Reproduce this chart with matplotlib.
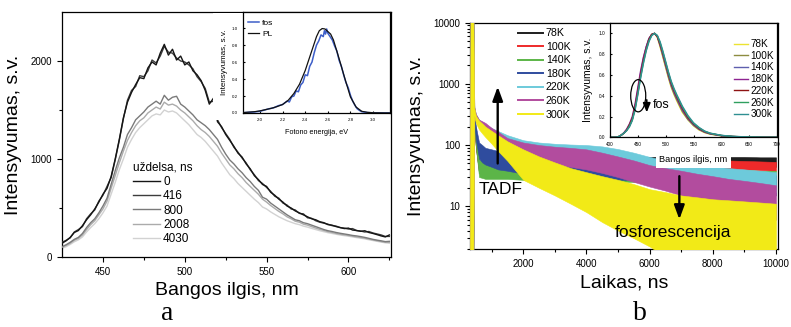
import matplotlib
matplotlib.use('Agg')
import matplotlib.pyplot as plt
from matplotlib.lines import Line2D
from matplotlib.patches import Ellipse, Rectangle
from matplotlib.ticker import MultipleLocator, FormatStrFormatter, FuncFormatter, FixedLocator

plt.rcParams['font.family'] = ['Liberation Sans', 'DejaVu Sans']

# ---------------- data: panel a (delayed spectra) ----------------
wl = [425, 427.5, 430, 432.5, 435, 437.5, 440, 442.5, 445, 447.5, 450, 452.5, 455, 457.5, 460, 462.5,
      465, 467.5, 470, 472.5, 475, 477.5, 480, 482.5, 485, 487.5, 490, 492.5, 495, 497.5, 500, 502.5,
      505, 507.5, 510, 512.5, 515, 517.5, 520, 522.5, 525, 527.5, 530, 532.5, 535, 537.5, 540, 542.5,
      545, 547.5, 550, 552.5, 555, 557.5, 560, 562.5, 565, 567.5, 570, 572.5, 575, 577.5, 580, 582.5,
      585, 587.5, 590, 592.5, 595, 597.5, 600, 602.5, 605, 607.5, 610, 612.5, 615, 617.5, 620, 622.5, 625]
delay_labels = ['0', '416', '800', '2008', '4030']
delay_colors = ['#151515', '#3c3c3c', '#7a7a7a', '#ababab', '#d2d2d2']
spec_0 = [140, 165, 200, 250, 270, 320, 380, 430, 490, 560, 640, 700, 820, 1000, 1200, 1420,
          1580, 1680, 1760, 1830, 1820, 1930, 1990, 1960, 2080, 2170, 2060, 2120, 2010, 2050, 1960, 1990,
          1900, 1860, 1800, 1700, 1560, 1620, 1380, 1330, 1250, 1190, 1130, 1060, 1020, 950, 900, 830,
          790, 740, 720, 660, 630, 590, 560, 520, 500, 470, 450, 430, 410, 390, 380, 360,
          350, 330, 325, 310, 300, 290, 295, 275, 270, 262, 268, 250, 240, 228, 215, 205, 225]
spec_416 = [150, 170, 195, 255, 280, 310, 390, 440, 480, 570, 630, 720, 810, 990, 1190, 1410,
            1600, 1700, 1740, 1850, 1840, 1900, 2010, 1980, 2050, 2150, 2090, 2080, 2030, 2000, 1990, 1960,
            1920, 1840, 1790, 1720, 1580, 1590, 1400, 1320, 1260, 1200, 1120, 1070, 1010, 960, 890, 840,
            780, 750, 710, 670, 620, 600, 550, 530, 490, 480, 445, 440, 400, 395, 370, 355,
            345, 335, 320, 315, 300, 295, 285, 290, 270, 265, 255, 260, 245, 235, 225, 210, 210]
spec_800 = [105, 125, 150, 180, 200, 240, 300, 350, 390, 450, 520, 600, 740, 880, 1010, 1120,
            1250, 1320, 1400, 1440, 1480, 1530, 1560, 1590, 1560, 1650, 1600, 1630, 1640, 1560, 1530, 1490,
            1450, 1400, 1370, 1340, 1300, 1250, 1200, 1120, 1050, 990, 950, 900, 860, 810, 770, 720,
            680, 610, 590, 550, 520, 490, 460, 430, 405, 380, 370, 350, 340, 325, 310, 295,
            280, 268, 260, 250, 242, 235, 228, 220, 215, 208, 200, 190, 180, 172, 165, 157, 160]
spec_2008 = [100, 118, 140, 170, 190, 225, 280, 330, 370, 430, 490, 570, 700, 830, 960, 1080,
             1190, 1270, 1340, 1390, 1420, 1470, 1500, 1530, 1510, 1580, 1550, 1560, 1540, 1500, 1470, 1430,
             1390, 1340, 1300, 1270, 1230, 1180, 1130, 1060, 1000, 940, 900, 850, 810, 760, 720, 680,
             640, 590, 560, 525, 495, 465, 440, 410, 390, 365, 355, 335, 325, 310, 295, 282,
             270, 258, 250, 240, 232, 226, 220, 212, 205, 198, 192, 183, 174, 166, 158, 150, 150]
spec_4030 = [90, 105, 128, 155, 175, 205, 255, 300, 340, 390, 450, 520, 640, 760, 890, 1000,
             1120, 1200, 1270, 1320, 1360, 1400, 1440, 1460, 1450, 1500, 1480, 1490, 1470, 1430, 1390, 1350,
             1300, 1250, 1220, 1180, 1130, 1080, 1030, 960, 900, 840, 800, 750, 710, 670, 630, 590,
             555, 510, 490, 460, 435, 410, 390, 370, 355, 340, 330, 315, 305, 292, 280, 268,
             258, 248, 240, 232, 224, 218, 212, 205, 198, 192, 185, 176, 168, 160, 152, 145, 140]

# inset a: normalized spectra vs photon energy
e_pl = [1.85, 1.9, 1.95, 2.0, 2.05, 2.1, 2.15, 2.2, 2.25, 2.3, 2.35, 2.4, 2.45, 2.5, 2.525, 2.55,
        2.575, 2.6, 2.625, 2.65, 2.7, 2.75, 2.8, 2.85, 2.9, 2.95, 3.0, 3.05, 3.1, 3.15]
pl_vals = [0.005, 0.01, 0.015, 0.025, 0.04, 0.055, 0.075, 0.1, 0.15, 0.23, 0.34, 0.5, 0.7, 0.9, 0.97, 0.995,
           0.99, 0.96, 0.93, 0.86, 0.64, 0.41, 0.19, 0.07, 0.02, 0.008, 0.003, 0.002, 0.001, 0.001]
e_fos = [1.85, 1.9, 1.95, 2.0, 2.04, 2.08, 2.12, 2.16, 2.2, 2.24, 2.26, 2.28, 2.3, 2.32, 2.34, 2.36,
         2.38, 2.4, 2.42, 2.44, 2.46, 2.48, 2.5, 2.52, 2.54, 2.56, 2.57, 2.58, 2.59, 2.6, 2.62, 2.64,
         2.66, 2.68, 2.7, 2.72, 2.74, 2.76, 2.78, 2.8, 2.82, 2.84, 2.86, 2.88, 2.9, 2.95, 3.0, 3.1, 3.15]
fos_vals = [0.003, 0.008, 0.012, 0.02, 0.035, 0.05, 0.06, 0.085, 0.1, 0.14, 0.13, 0.19, 0.2, 0.26, 0.25, 0.33,
            0.36, 0.45, 0.44, 0.55, 0.6, 0.71, 0.8, 0.85, 0.92, 0.9, 0.97, 0.93, 0.99, 0.94, 0.9, 0.86,
            0.79, 0.73, 0.62, 0.55, 0.45, 0.36, 0.3, 0.21, 0.14, 0.09, 0.05, 0.03, 0.015, 0.005, 0.002, 0.001, 0.001]

# ---------------- data: panel b (decays, noisy bands: low / high envelopes) ----------------
t_ns = [310, 330, 415, 450, 500, 600, 700, 800, 1000, 1200, 1500, 2000, 2500, 3000, 3500, 4000,
        4500, 5000, 5500, 6000, 6500, 7000, 7500, 8000, 8500, 9000, 9500, 10000]
temp_labels = ['78K', '100K', '140K', '180K', '220K', '260K', '300K']
temp_colors = ['#1e1e1e', '#ee2a2a', '#5cb548', '#2f4c9e', '#6dcadb', '#b24c9e', '#f2ea17']
low_78 = [1, 1, 1, 200, 90, 35, 34, 33, 32, 32, 32, 33, 34, 35, 36, 37, 38, 39, 40, 42, 44, 45, 46, 46, 46, 45, 45, 44]
high_78 = [1, 20000, 20000, 300, 160, 55, 53, 52, 50, 50, 50, 51, 52, 53, 54, 55, 57, 59, 62, 64, 65, 65, 65, 65, 64, 64, 63, 63]
low_100 = [1, 1, 1, 200, 90, 35, 33, 31, 30, 30, 30, 30, 31, 32, 33, 33, 34, 35, 36, 38, 39, 40, 40, 40, 40, 40, 39, 38]
high_100 = [1, 20000, 20000, 300, 160, 55, 52, 50, 50, 49, 48, 48, 48, 49, 50, 51, 53, 55, 57, 59, 59, 59, 58, 57, 56, 55, 54, 53]
low_140 = [1, 1, 1, 200, 90, 30, 29, 28, 28, 28, 28, 27, 26, 25, 25, 25, 25, 25, 25, 25, 25, 24, 24, 24, 23, 23, 22, 22]
high_140 = [1, 20000, 20000, 300, 160, 58, 56, 55, 52, 51, 50, 48, 45, 42, 42, 41, 41, 41, 40, 40, 40, 40, 40, 40, 39, 39, 38, 38]
low_180 = [1, 1, 1, 250, 120, 60, 52, 48, 44, 40, 38, 34, 32, 30, 29, 28, 28, 27, 27, 26, 25, 24, 23, 22, 20, 18, 16, 15]
high_180 = [1, 20000, 20000, 350, 200, 110, 100, 90, 85, 80, 70, 58, 52, 48, 46, 45, 44, 43, 43, 42, 41, 40, 39, 38, 36, 35, 33, 32]
low_220 = [1, 1, 1, 300, 250, 200, 180, 160, 140, 120, 105, 90, 82, 76, 72, 66, 60, 54, 47, 40, 36, 32, 28, 25, 23, 20, 18, 17]
high_220 = [1, 20000, 20000, 420, 320, 260, 240, 220, 190, 170, 145, 120, 110, 105, 102, 100, 95, 86, 75, 64, 56, 51, 47, 45, 42, 40, 38, 36]
low_260 = [1, 1, 1, 300, 240, 200, 180, 160, 130, 110, 90, 65, 55, 48, 44, 40, 35, 30, 25, 21, 18, 15, 13, 11, 9.5, 8, 7, 6]
high_260 = [1, 20000, 20000, 420, 320, 260, 245, 230, 190, 165, 130, 110, 100, 94, 90, 85, 75, 65, 56, 47, 42, 38, 34, 31, 28, 26, 24, 22]
low_300 = [1, 1, 1, 300, 230, 180, 155, 135, 105, 80, 55, 27, 20, 15, 11, 8, 5.5, 4, 3, 2.2, 1.5, 1.5, 1.5, 1.5, 1.5, 1.5, 1.5, 1.5]
high_300 = [1, 20000, 20000, 400, 300, 250, 225, 200, 170, 145, 115, 85, 65, 52, 42, 36, 31, 27, 23, 19, 17, 15, 14, 13, 12.5, 12, 11.5, 11]

# inset b: normalized spectra
wl_b = [400, 410, 415, 420, 425, 430, 435, 440, 445, 450, 455, 460, 465, 470, 475, 480, 485, 490, 495, 500,
        505, 510, 515, 520, 530, 540, 550, 560, 570, 580, 600, 620, 650, 680, 700]
ins_labels = ['78K', '100K', '140K', '180K', '220K', '260K', '300k']
ins_colors = ['#ece331', '#8d8c40', '#5e5fae', '#8e2391', '#8e1212', '#2f9f5f', '#2f8f92']
ins_78 = [0, 0, 0.005, 0.02, 0.04, 0.07, 0.11, 0.17, 0.28, 0.43, 0.6, 0.74, 0.85, 0.94, 0.99, 1.0, 0.96, 0.87, 0.77, 0.67,
          0.57, 0.48, 0.41, 0.35, 0.24, 0.17, 0.11, 0.07, 0.045, 0.03, 0.014, 0.006, 0.002, 0, 0]
ins_100 = [0, 0, 0.005, 0.02, 0.04, 0.07, 0.11, 0.17, 0.29, 0.44, 0.61, 0.75, 0.86, 0.95, 0.99, 1.0, 0.97, 0.88, 0.78, 0.68,
           0.58, 0.49, 0.42, 0.36, 0.25, 0.17, 0.115, 0.075, 0.048, 0.032, 0.015, 0.007, 0.002, 0, 0]
ins_140 = [0, 0, 0.005, 0.02, 0.04, 0.07, 0.12, 0.18, 0.3, 0.46, 0.62, 0.76, 0.87, 0.95, 0.99, 1.0, 0.97, 0.89, 0.79, 0.69,
           0.59, 0.5, 0.43, 0.37, 0.26, 0.18, 0.12, 0.078, 0.05, 0.034, 0.016, 0.007, 0.002, 0, 0]
ins_180 = [0, 0, 0.005, 0.02, 0.045, 0.08, 0.13, 0.2, 0.32, 0.48, 0.64, 0.77, 0.87, 0.95, 0.99, 1.0, 0.97, 0.89, 0.8, 0.7,
           0.6, 0.51, 0.44, 0.38, 0.27, 0.185, 0.125, 0.08, 0.052, 0.035, 0.016, 0.007, 0.002, 0, 0]
ins_220 = [0, 0, 0.005, 0.02, 0.04, 0.07, 0.12, 0.18, 0.29, 0.44, 0.6, 0.74, 0.85, 0.94, 0.99, 1.0, 0.97, 0.9, 0.81, 0.71,
           0.61, 0.52, 0.45, 0.39, 0.28, 0.19, 0.13, 0.085, 0.055, 0.037, 0.017, 0.008, 0.002, 0, 0]
ins_260 = [0, 0, 0.005, 0.02, 0.04, 0.065, 0.11, 0.17, 0.27, 0.42, 0.58, 0.72, 0.84, 0.93, 0.98, 1.0, 0.98, 0.91, 0.82, 0.72,
           0.62, 0.53, 0.46, 0.4, 0.29, 0.2, 0.135, 0.09, 0.058, 0.038, 0.018, 0.008, 0.003, 0, 0]
ins_300 = [0, 0, 0.005, 0.02, 0.04, 0.065, 0.1, 0.16, 0.26, 0.41, 0.57, 0.71, 0.83, 0.92, 0.98, 1.0, 0.98, 0.92, 0.83, 0.73,
           0.63, 0.54, 0.47, 0.41, 0.3, 0.21, 0.14, 0.095, 0.06, 0.04, 0.019, 0.009, 0.003, 0, 0]

# ---------------- figure ----------------
W, H = 791, 327
fig = plt.figure(figsize=(W / 100, H / 100), dpi=100)
fig.patch.set_facecolor('white')


def box(x0, y0, x1, y1):
    return [x0 / W, 1 - y1 / H, (x1 - x0) / W, (y1 - y0) / H]


def style(ax, size=7, length=3.5, direction='out'):
    ax.tick_params(which='both', direction=direction, labelsize=size, top=False, right=False, width=0.8)
    ax.tick_params(which='major', length=length)
    ax.tick_params(which='minor', length=length * 0.7)
    for s in ax.spines.values():
        s.set_linewidth(0.9)


# ---- panel a ----
axA = fig.add_axes(box(62, 12, 391, 257))
specs = [spec_0, spec_416, spec_800, spec_2008, spec_4030]
handles = []
for i in range(4, -1, -1):
    ln, = axA.plot(wl, specs[i], color=delay_colors[i], lw=1.0, zorder=2 + (4 - i))
    handles.insert(0, ln)
axA.set_xlim(425, 626)
axA.set_ylim(0, 2500)
axA.xaxis.set_major_locator(FixedLocator([450, 500, 550, 600]))
axA.xaxis.set_minor_locator(FixedLocator([475, 525, 575, 625]))
axA.yaxis.set_major_locator(FixedLocator([0, 1000, 2000]))
axA.yaxis.set_minor_locator(FixedLocator([500, 1500]))
style(axA)
axA.set_xlabel('Bangos ilgis, nm', fontsize=14, labelpad=4)
axA.set_ylabel('Intensyvumas, s.v.', fontsize=14, labelpad=6)
legA = axA.legend(handles, delay_labels, title='uždelsa, ns', loc='upper left',
                  bbox_to_anchor=(0.216, 0.39), frameon=False, fontsize=8.5, title_fontsize=8.5,
                  handlelength=2.3, handletextpad=0.25, labelspacing=0.2, borderpad=0, borderaxespad=0)
legA._legend_box.align = 'left'

# inset a
axAi = fig.add_axes(box(243, 12, 390, 113))
axAi.add_patch(Rectangle((213 / W, 1 - 120 / H), (389 - 213) / W, (120 - 13) / H, transform=fig.transFigure,
                         facecolor='white', edgecolor='none', zorder=0, clip_on=False))
l_fos, = axAi.plot(e_fos, fos_vals, color='#3d5ec8', lw=1.1, zorder=3)
l_pl, = axAi.plot(e_pl, pl_vals, color='#111111', lw=0.9, zorder=4)
axAi.set_xlim(1.85, 3.15)
axAi.set_ylim(0, 1.19)
axAi.xaxis.set_major_locator(FixedLocator([2.0, 2.2, 2.4, 2.6, 2.8, 3.0]))
axAi.yaxis.set_major_locator(FixedLocator([0.0, 0.2, 0.4, 0.6, 0.8, 1.0]))
axAi.xaxis.set_major_formatter(FormatStrFormatter('%.1f'))
axAi.yaxis.set_major_formatter(FormatStrFormatter('%.1f'))
style(axAi, size=3.2, length=1.5, direction='in')
axAi.set_xlabel('Fotono energija, eV', fontsize=5.2, labelpad=5)
axAi.set_ylabel('Intensyvumas, s.v.', fontsize=5.8, labelpad=3)
axAi.legend([l_fos, l_pl], ['fos', 'PL'], loc='upper left', bbox_to_anchor=(0.034, 0.925), frameon=False,
            fontsize=6, handlelength=1.3, handletextpad=0.4, labelspacing=0.3, borderpad=0, borderaxespad=0)

# ---- panel b ----
axB = fig.add_axes(box(470, 22.7, 778, 249))
lows = [low_78, low_100, low_140, low_180, low_220, low_260, low_300]
highs = [high_78, high_100, high_140, high_180, high_220, high_260, high_300]
for i in range(7):
    axB.fill_between(t_ns, lows[i], highs[i], color=temp_colors[i], lw=0.4, edgecolor=temp_colors[i],
                     zorder=2 + i)
axB.set_yscale('log')
axB.set_xlim(313, 10063)
axB.set_ylim(2, 10000)
axB.xaxis.set_major_locator(FixedLocator([2000, 4000, 6000, 8000, 10000]))
axB.xaxis.set_minor_locator(FixedLocator([1000, 3000, 5000, 7000, 9000]))
axB.yaxis.set_major_locator(FixedLocator([10, 100, 1000, 10000]))
axB.yaxis.set_major_formatter(FuncFormatter(lambda v, p: '%d' % v))
style(axB)
axB.set_xlabel('Laikas, ns', fontsize=14, labelpad=4)
axB.set_ylabel('Intensyvumas, s.v.', fontsize=14, labelpad=6)
hB = [Line2D([], [], color=c, lw=1.4) for c in temp_colors]
axB.legend(hB, temp_labels, loc='upper left', bbox_to_anchor=(0.156, 0.975), frameon=False, fontsize=7.7,
           handlelength=2.3, handletextpad=0.3, labelspacing=0.33, borderpad=0, borderaxespad=0)
axB.annotate('', xy=(1190, 900), xytext=(1190, 50),
             arrowprops=dict(arrowstyle='-|>,head_length=0.6,head_width=0.22', lw=1.7, color='black',
                             mutation_scale=14, shrinkA=0, shrinkB=0), zorder=20)
axB.annotate('', xy=(6940, 6.1), xytext=(6940, 31),
             arrowprops=dict(arrowstyle='-|>,head_length=0.6,head_width=0.22', lw=1.7, color='black',
                             mutation_scale=14, shrinkA=0, shrinkB=0), zorder=20)
axB.text(0.10, 0.261, 'TADF', transform=axB.transAxes, fontsize=12.5, ha='center', va='center', zorder=21)
axB.text(0.659, 0.073, 'fosforescencija', transform=axB.transAxes, fontsize=12.5, ha='center', va='center',
         zorder=21)

# inset b
axBi = fig.add_axes(box(610, 23, 777, 137.3))
ins = [ins_78, ins_100, ins_140, ins_180, ins_220, ins_260, ins_300]
hBi = []
for i in range(7):
    ln, = axBi.plot(wl_b, ins[i], color=ins_colors[i], lw=1.0)
    hBi.append(ln)
axBi.set_xlim(400, 700)
axBi.set_ylim(0, 1.1)
axBi.xaxis.set_major_locator(MultipleLocator(50))
axBi.yaxis.set_major_locator(FixedLocator([0.0, 0.2, 0.4, 0.6, 0.8, 1.0]))
axBi.yaxis.set_major_formatter(FormatStrFormatter('%.1f'))
style(axBi, size=3.4, length=1.5, direction='in')
axBi.set_xlabel('Bangos ilgis, nm', fontsize=6.7, labelpad=6,
                bbox=dict(facecolor='white', edgecolor='none', pad=2.5))
axBi.set_ylabel('Intensyvumas, s.v.', fontsize=7.4, labelpad=4)
axBi.legend(hBi, ins_labels, loc='upper left', bbox_to_anchor=(0.743, 0.86), frameon=False, fontsize=7.2,
            handlelength=1.35, handletextpad=0.3, labelspacing=0.17, borderpad=0, borderaxespad=0)
axBi.add_patch(Ellipse((450.7, 0.40), 27, 0.31, fill=False, lw=0.9, edgecolor='black', zorder=10))
axBi.annotate('', xy=(466, 0.24), xytext=(466, 0.36),
              arrowprops=dict(arrowstyle='-|>,head_length=0.6,head_width=0.25', lw=1.2, color='black',
                              mutation_scale=9, shrinkA=0, shrinkB=0), zorder=11)
axBi.text(491.6, 0.31, 'fos', fontsize=9, ha='center', va='center', zorder=11)

# panel letters
fig.text(167 / W, 0.002, 'a', fontsize=20, family=['Liberation Serif', 'DejaVu Serif'], ha='center', va='bottom')
fig.text(640 / W, 0.002, 'b', fontsize=20, family=['Liberation Serif', 'DejaVu Serif'], ha='center', va='bottom')

fig.savefig('out.png', dpi=100, facecolor='white')
